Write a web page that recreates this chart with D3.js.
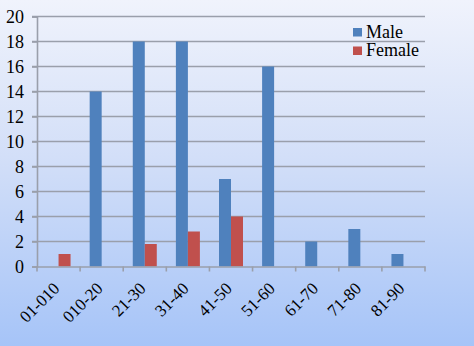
<!DOCTYPE html>
<html>
<head>
<meta charset="utf-8">
<script src="https://cdn.jsdelivr.net/npm/d3@7"></script>
<style>
  html, body { margin: 0; padding: 0; }
  svg { display: block; }
  svg text { font-family: "Liberation Serif", "Times New Roman", "DejaVu Serif", serif; }
</style>
</head>
<body>
<svg id="chart" width="474" height="346"></svg>
<script>
// Age groups and counts by sex
const categories = ["01-010", "010-20", "21-30", "31-40", "41-50", "51-60", "61-70", "71-80", "81-90"];
const maleValues = [0, 14, 18, 18, 7, 16, 2, 3, 1];
const femaleValues = [1, 0, 1.8, 2.8, 4, 0, 0, 0, 0];
const yTicks = [0, 2, 4, 6, 8, 10, 12, 14, 16, 18, 20];
const seriesNames = ["Male", "Female"];
const seriesColors = ["#4f81bd", "#c0504d"];

const W = 474, H = 346;
const margin = { left: 37, right: 49, top: 16.5, bottom: 79.5 };
const svg = d3.select("#chart");
const serif = '"Liberation Serif", "Times New Roman", "DejaVu Serif", serif';

// page background gradient
const defs = svg.append("defs");
const grad = defs.append("linearGradient").attr("id", "bg").attr("x1", 0).attr("y1", 0).attr("x2", 0).attr("y2", 1);
grad.append("stop").attr("offset", "0%").attr("stop-color", "#f0f3fc");
grad.append("stop").attr("offset", "45%").attr("stop-color", "#d3dff8");
grad.append("stop").attr("offset", "100%").attr("stop-color", "#a6c4f8");
svg.append("rect").attr("width", W).attr("height", H).attr("fill", "url(#bg)");

const x = d3.scaleBand().domain(categories).range([margin.left, W - margin.right]);
const y = d3.scaleLinear().domain([0, 20]).range([H - margin.bottom, margin.top]);
const inner = d3.scaleBand().domain(seriesNames).range([0, 24]);
const groupOffset = (x.bandwidth() - 24) / 2;

// horizontal gridlines
svg.append("g").selectAll("line").data(yTicks.filter(d => d > 0)).join("line")
  .attr("x1", margin.left - 5).attr("x2", W - margin.right)
  .attr("y1", d => y(d)).attr("y2", d => y(d))
  .attr("stroke", "#9a9fab").attr("stroke-width", 1.6);

// y axis
const yAxis = svg.append("g").attr("transform", `translate(${margin.left},0)`)
  .call(d3.axisLeft(y).tickValues(yTicks).tickSize(5).tickPadding(8));
yAxis.attr("font-family", null);
yAxis.select(".domain").attr("stroke", "#9a9fab").attr("stroke-width", 1.6);
yAxis.selectAll(".tick line").attr("stroke", "#9a9fab").attr("stroke-width", 1.6);
yAxis.selectAll("text").style("font-family", serif)
  .attr("font-size", 18).attr("fill", "#000");

// bars
const rows = categories.map((c, i) => ({ c, vals: [maleValues[i], femaleValues[i]] }));
const groups = svg.append("g").selectAll("g").data(rows).join("g")
  .attr("transform", d => `translate(${x(d.c) + groupOffset},0)`);
groups.selectAll("rect").data(d => d.vals.map((v, k) => ({ v, k }))).join("rect")
  .attr("x", d => inner(seriesNames[d.k]))
  .attr("width", inner.bandwidth())
  .attr("y", d => y(d.v))
  .attr("height", d => y(0) - y(d.v))
  .attr("fill", d => seriesColors[d.k]);

// x axis
const xAxis = svg.append("g").attr("transform", `translate(0,${y(0)})`)
  .call(d3.axisBottom(x).tickSize(0).tickFormat(""));
xAxis.select(".domain").attr("stroke", "#9a9fab").attr("stroke-width", 1.6);
// tick marks at category boundaries
svg.append("g").selectAll("line").data(d3.range(categories.length + 1)).join("line")
  .attr("x1", i => margin.left + i * x.step()).attr("x2", i => margin.left + i * x.step())
  .attr("y1", y(0)).attr("y2", y(0) + 5)
  .attr("stroke", "#9a9fab").attr("stroke-width", 1.6);

// rotated category labels
svg.append("g").selectAll("text").data(categories).join("text")
  .attr("transform", d => `translate(${x(d) + x.bandwidth() / 2 + 2},${y(0) + 23}) rotate(-45)`)
  .attr("text-anchor", "end")
  .style("font-family", serif)
  .attr("font-size", 17).attr("fill", "#000")
  .text(d => d);

// legend
const legend = svg.append("g").attr("transform", "translate(353,28)");
seriesNames.forEach((name, i) => {
  const g = legend.append("g").attr("transform", `translate(0,${i * 18.5})`);
  g.append("rect").attr("width", 9).attr("height", 8.5).attr("fill", seriesColors[i]);
  g.append("text").attr("x", 13).attr("y", 9.5)
    .style("font-family", serif)
    .attr("font-size", 18).attr("fill", "#000").text(name);
});
</script>
</body>
</html>
